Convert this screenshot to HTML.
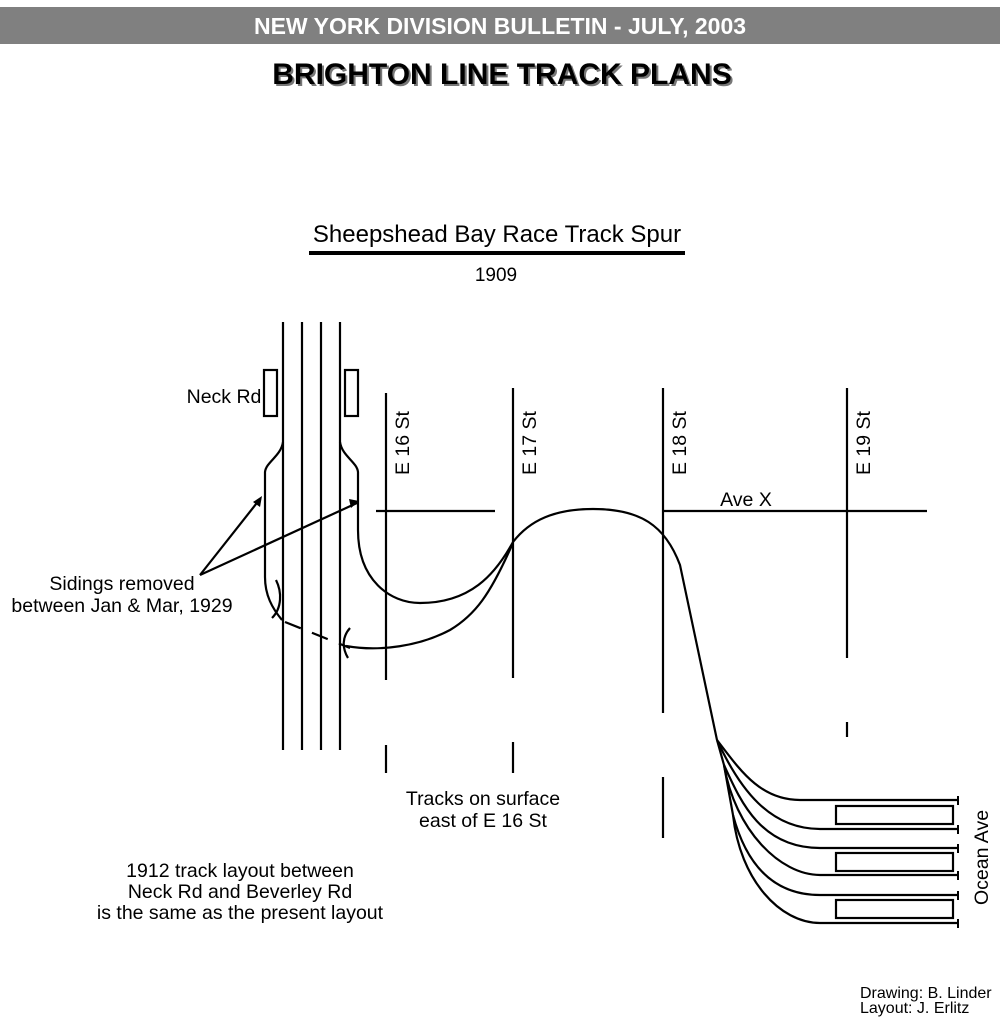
<!DOCTYPE html>
<html><head><meta charset="utf-8"><style>
body{margin:0;background:#fff;width:1000px;height:1024px;overflow:hidden}
svg{display:block}
text{font-family:"Liberation Sans",Arial,sans-serif;fill:#000}
</style></head><body>
<svg width="1000" height="1024" viewBox="0 0 1000 1024">
<rect x="0" y="7" width="1000" height="37" fill="#808080"/>
<text x="500" y="34" font-size="23" font-weight="bold" text-anchor="middle" style="fill:#fff">NEW YORK DIVISION BULLETIN - JULY, 2003</text>
<text x="504" y="86" font-size="30" font-weight="bold" text-anchor="middle" style="fill:#777">BRIGHTON LINE TRACK PLANS</text>
<text x="502" y="84" font-size="30" font-weight="bold" text-anchor="middle">BRIGHTON LINE TRACK PLANS</text>
<text x="497" y="242" font-size="24" text-anchor="middle">Sheepshead Bay Race Track Spur</text>
<line x1="309" y1="253" x2="685" y2="253" stroke="#000" stroke-width="4"/>
<text x="496" y="281" font-size="19" text-anchor="middle">1909</text>
<g stroke="#000" stroke-width="2.2" fill="none">
<line x1="283" y1="322" x2="283" y2="750"/><line x1="302" y1="322" x2="302" y2="750"/>
<line x1="321" y1="322" x2="321" y2="750"/><line x1="340" y1="322" x2="340" y2="750"/>
<rect x="264" y="370" width="13" height="46"/><rect x="345" y="370" width="13" height="46"/>
<line x1="386" y1="393" x2="386" y2="680"/><line x1="386" y1="745" x2="386" y2="773"/>
<line x1="513" y1="388" x2="513" y2="678"/><line x1="513" y1="742" x2="513" y2="773"/>
<line x1="663" y1="388" x2="663" y2="713"/><line x1="663" y1="777" x2="663" y2="838"/>
<line x1="847" y1="388" x2="847" y2="658"/><line x1="847" y1="722" x2="847" y2="737"/>
<line x1="376" y1="511" x2="495" y2="511"/><line x1="663" y1="511" x2="927" y2="511"/>
<path d="M283,442 C281,456 266,462 265,472 L265,577 C265,595 272,608 282,620"/>
<path d="M285,622 L350,648" stroke-dasharray="17,12"/>
<path d="M346,646 C380,652 420,646 450,630 C475,615 490,595 512,545"/>
<path d="M276,580 C282,592 282,608 272,618"/>
<path d="M350,628 C342,637 342,648 348,658"/>
<path d="M340,442 C342,456 357,462 358,472 L358,530 C358,580 390,603 420,603 C470,603 495,575 513,542 C530,520 555,509 593,509 C640,509 665,525 680,565 L717,740"/>
<line x1="200" y1="575" x2="260" y2="499"/><line x1="200" y1="575" x2="357" y2="503"/>
<path d="M717,740 C740,770 760,800 800,800 L958,800"/>
<path d="M717,740 C740,790 770,829 820,829 L958,829"/>
<path d="M717,740 L724,765 C740,800 760,848 820,848 L958,848"/>
<path d="M724,765 C735,830 780,875 820,875 L958,875"/>
<path d="M724,765 L733,815 C745,860 770,895 820,895 L958,895"/>
<path d="M733,815 C740,880 780,923 820,923 L958,923"/>
<g stroke-width="2"><line x1="958" y1="796" x2="958" y2="805"/><line x1="958" y1="825" x2="958" y2="834"/><line x1="958" y1="844" x2="958" y2="853"/><line x1="958" y1="871" x2="958" y2="880"/><line x1="958" y1="891" x2="958" y2="900"/><line x1="958" y1="919" x2="958" y2="928"/></g>
<rect x="836" y="806" width="117" height="18"/><rect x="836" y="853" width="117" height="18"/><rect x="836" y="900" width="117" height="18"/>
</g>
<polygon points="262,496 253,502 260,507" fill="#000"/>
<polygon points="359,501 349,499 351,508" fill="#000"/>
<g font-size="19.5">
<text x="224" y="403" text-anchor="middle">Neck Rd</text>
<text transform="translate(409,475) rotate(-90)">E 16 St</text>
<text transform="translate(536,475) rotate(-90)">E 17 St</text>
<text transform="translate(686,475) rotate(-90)">E 18 St</text>
<text transform="translate(870,475) rotate(-90)">E 19 St</text>
<text transform="translate(988,905) rotate(-90)">Ocean Ave</text>
<text x="746" y="506" text-anchor="middle">Ave X</text>
<text x="122" y="590" text-anchor="middle">Sidings removed</text>
<text x="122" y="612" text-anchor="middle">between Jan &amp; Mar, 1929</text>
<text x="483" y="805" text-anchor="middle">Tracks on surface</text>
<text x="483" y="827" text-anchor="middle">east of E 16 St</text>
<text x="240" y="877" text-anchor="middle">1912 track layout between</text>
<text x="240" y="898" text-anchor="middle">Neck Rd and Beverley Rd</text>
<text x="240" y="919" text-anchor="middle">is the same as the present layout</text>
</g>
<text x="860" y="998" font-size="16">Drawing: B. Linder</text>
<text x="860" y="1013" font-size="16">Layout: J. Erlitz</text>
</svg>
</body></html>
